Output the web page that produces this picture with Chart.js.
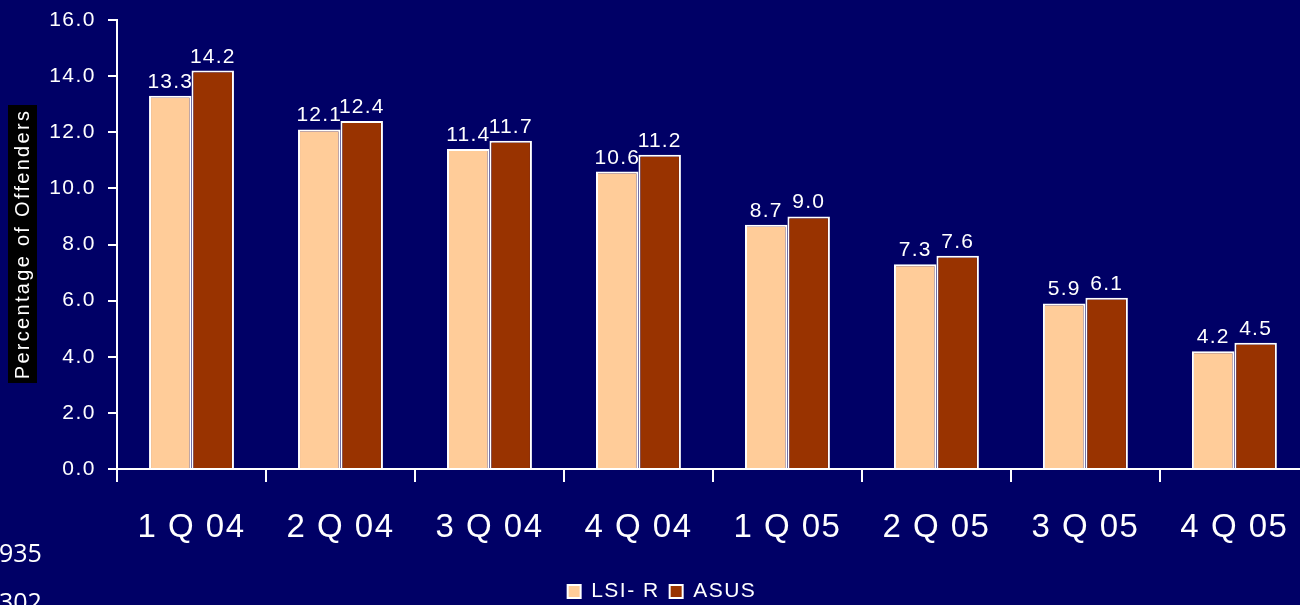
<!DOCTYPE html>
<html>
<head>
<meta charset="utf-8">
<title>Percentage of Offenders</title>
<script src="https://cdn.jsdelivr.net/npm/chart.js@4/dist/chart.umd.min.js"></script>
<style>
  html, body { margin: 0; padding: 0; background: #000066; overflow: hidden; }
  #wrap { position: relative; width: 1310px; height: 605px; }
</style>
</head>
<body>
<div id="wrap"><canvas id="offenders-chart"></canvas></div>
<script>
// quarters and the two assessment series
const quarters = ['1 Q 04', '2 Q 04', '3 Q 04', '4 Q 04', '1 Q 05', '2 Q 05', '3 Q 05', '4 Q 05'];
const lsiR = [13.3, 12.1, 11.4, 10.6, 8.7, 7.3, 5.9, 4.2];
const asus = [14.2, 12.4, 11.7, 11.2, 9.0, 7.6, 6.1, 4.5];
const yTicks = [0, 2, 4, 6, 8, 10, 12, 14, 16];
const sideNotes = ['935', '302'];

Chart.defaults.font.family = "'Liberation Sans', Arial, sans-serif";
Chart.defaults.color = '#ffffff';

// wider letter spacing for all text drawn by the chart
const spacing = {
    id: 'spacing',
    beforeDraw(chart) {
        chart.ctx.letterSpacing = '1.5px';
    }
};

// value above each bar
const valueLabels = {
    id: 'valueLabels',
    afterDatasetsDraw(chart) {
        const ctx = chart.ctx;
        ctx.save();
        ctx.letterSpacing = '1.2px';
        ctx.fillStyle = '#ffffff';
        ctx.font = "21px 'Liberation Sans', Arial, sans-serif";
        ctx.textAlign = 'center';
        ctx.textBaseline = 'alphabetic';
        chart.data.datasets.forEach((ds, i) => {
            chart.getDatasetMeta(i).data.forEach((bar, j) => {
                ctx.fillText(ds.data[j].toFixed(1), bar.x, bar.y - 8);
            });
        });
        ctx.restore();
    }
};

// rotated axis title on a black strip, plus the stray numbers bottom left
const extraText = {
    id: 'extraText',
    afterDraw(chart) {
        const ctx = chart.ctx;
        ctx.save();
        ctx.fillStyle = '#000000';
        ctx.fillRect(8, 105, 29, 278);
        ctx.translate(23, 244);
        ctx.rotate(-Math.PI / 2);
        ctx.fillStyle = '#ffffff';
        ctx.letterSpacing = '2.3px';
        ctx.font = "20px 'Liberation Sans', Arial, sans-serif";
        ctx.textAlign = 'center';
        ctx.textBaseline = 'middle';
        ctx.fillText('Percentage of Offenders', 0, 0);
        ctx.restore();

        ctx.save();
        ctx.letterSpacing = '0px';
        ctx.fillStyle = '#ffffff';
        ctx.font = "25px 'Open Sans', sans-serif";
        ctx.textAlign = 'left';
        ctx.textBaseline = 'alphabetic';
        ctx.fillText(sideNotes[0], -1, 562);
        ctx.fillText(sideNotes[1], -1, 611);
        ctx.restore();
    }
};

const ctx = document.getElementById('offenders-chart').getContext('2d');
const offendersChart = new Chart(ctx, {
    type: 'bar',
    data: {
        labels: quarters,
        datasets: [{
            label: 'LSI- R',
            data: lsiR,
            backgroundColor: '#FFCC99',
            borderColor: '#ffffff',
            borderWidth: 2,
            borderSkipped: 'bottom'
        }, {
            label: 'ASUS',
            data: asus,
            backgroundColor: '#993300',
            borderColor: '#ffffff',
            borderWidth: 2,
            borderSkipped: 'bottom'
        }]
    },
    options: {
        responsive: true,
        maintainAspectRatio: false,
        animation: false,
        layout: { padding: { top: 20, right: 1, left: 0, bottom: -7 } },
        datasets: {
            bar: { categoryPercentage: 0.57, barPercentage: 1.0 }
        },
        plugins: {
            legend: {
                position: 'bottom',
                labels: {
                    color: '#ffffff',
                    font: { size: 21 },
                    boxWidth: 13,
                    boxHeight: 13,
                    padding: 10
                }
            },
            tooltip: { enabled: false }
        },
        scales: {
            x: {
                grid: {
                    drawOnChartArea: false,
                    color: '#ffffff',
                    lineWidth: 2,
                    tickLength: 13
                },
                border: { color: '#ffffff', width: 2 },
                ticks: {
                    color: '#ffffff',
                    font: { size: 33 },
                    padding: 26,
                    maxRotation: 0
                },
                afterFit(scale) { scale.height = 102; }
            },
            y: {
                min: 0,
                max: 16,
                afterBuildTicks(scale) {
                    scale.ticks = yTicks.map(v => ({ value: v }));
                },
                grid: {
                    drawOnChartArea: false,
                    color: '#ffffff',
                    lineWidth: 2,
                    tickLength: 9
                },
                border: { color: '#ffffff', width: 2 },
                ticks: {
                    color: '#ffffff',
                    font: { size: 21 },
                    padding: 12,
                    callback: v => v.toFixed(1)
                },
                afterFit(scale) {
                    scale.width = 117;
                    scale.paddingTop = 0;
                    scale.paddingBottom = 0;
                }
            }
        }
    },
    plugins: [spacing, valueLabels, extraText]
});
</script>
</body>
</html>
